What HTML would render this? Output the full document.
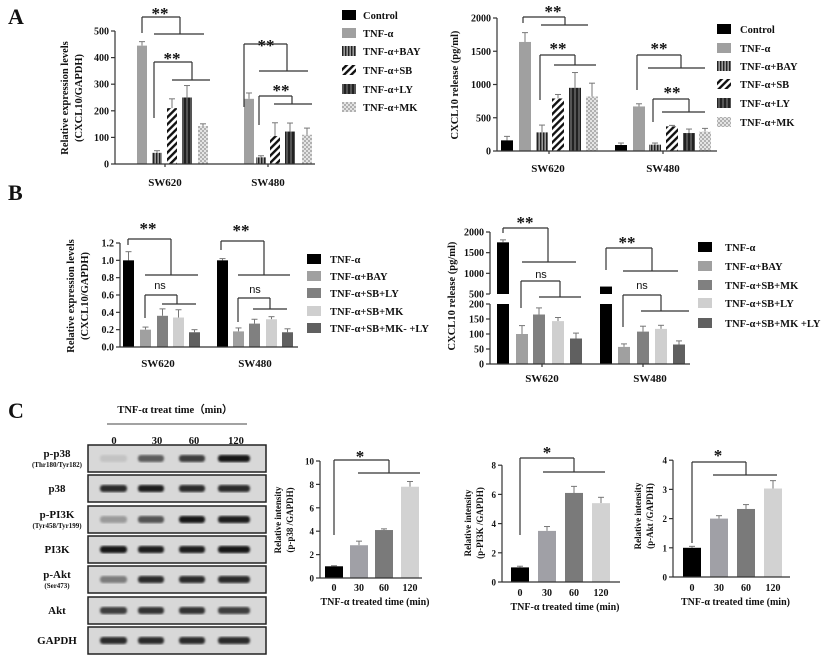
<!DOCTYPE html>
<html><head><meta charset="utf-8"><style>
html,body{margin:0;padding:0;background:#fff;width:825px;height:659px;overflow:hidden}
svg{display:block}
text{font-family:"Liberation Serif",serif;font-weight:bold;fill:#111}
</style></head><body>
<svg id="s" width="825" height="659" viewBox="0 0 825 659" xmlns="http://www.w3.org/2000/svg">
<defs>
<pattern id="pBAY" width="3" height="4" patternUnits="userSpaceOnUse"><rect width="3" height="4" fill="#9a9a9a"/><rect width="1.4" height="4" fill="#222"/></pattern>
<pattern id="pSB" width="5" height="5" patternUnits="userSpaceOnUse" patternTransform="rotate(45)"><rect width="5" height="5" fill="#fff"/><rect width="2.4" height="5" fill="#111"/></pattern>
<pattern id="pLY" width="4" height="4" patternUnits="userSpaceOnUse"><rect width="4" height="4" fill="#222"/><rect x="2.5" width="1" height="4" fill="#888"/></pattern>
<pattern id="pMK" width="4" height="4" patternUnits="userSpaceOnUse"><rect width="4" height="4" fill="#e4e4e4"/><rect width="2" height="2" fill="#b0b0b0"/><rect x="2" y="2" width="2" height="2" fill="#b0b0b0"/></pattern>
<filter id="blur"><feGaussianBlur stdDeviation="1.1"/></filter>
</defs>
<g id="g"></g>
</svg>
<script>
var g=document.getElementById('g'),NS='http://www.w3.org/2000/svg';
function el(t,a,txt){var e=document.createElementNS(NS,t);for(var k in a)e.setAttribute(k,a[k]);if(txt!=null)e.textContent=txt;g.appendChild(e);return e;}
function line(x1,y1,x2,y2,w,c){el('line',{x1:x1,y1:y1,x2:x2,y2:y2,stroke:c||'#333','stroke-width':w||1.2});}
function txt(x,y,s,sz,anc,extra){var a={x:x,y:y,'font-size':sz||10,'text-anchor':anc||'middle'};for(var k in extra)a[k]=extra[k];return el('text',a,s);}
function bar(x,w,y0,y,fill,errY){ if(errY!=null){line(x+w/2,y,x+w/2,errY,1,'#777');line(x+w/2-3,errY,x+w/2+3,errY,1,'#777');}
 el('rect',{x:x,y:Math.min(y,y0),width:w,height:Math.abs(y0-y),fill:fill});}
function bracket(vx,vy1,vy2,rx,ry,hx1,hx2,hy,star,sx,sy,ns){line(vx,vy1,vx,vy2);line(vx,vy2,rx,vy2);line(rx,vy2,rx,hy);line(hx1,hy,hx2,hy);
 if(ns)el('text',{x:sx,y:sy,'font-size':11,'text-anchor':'middle',style:'font-family:Liberation Sans,sans-serif;font-weight:normal'},'ns');
 else txt(sx,sy,star,17);}
function yaxis(x,ticks,ymap,top,bot,sz,dec){line(x,top,x,bot,1.2);ticks.forEach(function(t){var y=ymap(t);line(x-4,y,x,y,1.2);txt(x-6,y+3.5,dec?t.toFixed(dec):String(t),sz||10,'end');});}
function ylabel(x,y,lines,sz){lines.forEach(function(l,i){txt(0,0,l,sz||10,'middle',{transform:'translate('+(x+i*(sz||10)*1.35)+','+y+') rotate(-90)'});});}
function legend(x,ys,names,fills,tx,sz){names.forEach(function(n,i){el('rect',{x:x,y:ys[i]-5,width:14,height:10,fill:fills[i]});txt(tx,ys[i]+4,n,sz||10.5,'start');});}

txt(8,24,'A',22,'start');txt(8,200,'B',22,'start');txt(8,418,'C',22,'start');

(function(){var x0=115,y0=164,s=133/500,Y=function(v){return y0-v*s};
var fills=['#000','#a0a0a0','url(#pBAY)','url(#pSB)','url(#pLY)','url(#pMK)'];
var g1=[[123,1,0],[137,445,15],[152,42,8],[167,210,35],[182,250,45],[198,143,8]];
var g2=[[229,1,0],[244,245,22],[256,25,6],[270,105,50],[285,122,32],[302,110,25]];
[g1,g2].forEach(function(G){G.forEach(function(b,i){bar(b[0],10,y0,Y(b[1]),fills[i],b[2]?Y(b[1]+b[2]):null);});});
yaxis(x0,[0,100,200,300,400,500],Y,31,y0);line(x0,y0,315,y0,1.2);line(165,y0,165,y0+3);line(268,y0,268,y0+3);
txt(165,186,'SW620',11);txt(268,186,'SW480',11);
ylabel(68,98,['Relative expression levels','(CXCL10/GAPDH)'],10.5);
bracket(142,33,17,180,0,154,204,34,'**',160,19);
bracket(154,118,62,192,0,172,210,80,'**',172,64);
bracket(244,107,44,287,0,259,308,71,'**',266,51);
bracket(259,125,96,292,0,274,312,104,'**',281,96);
legend(342,[15,33,51,70,89,107],['Control','TNF-α','TNF-α+BAY','TNF-α+SB','TNF-α+LY','TNF-α+MK'],fills,363,10.5);
})();
(function(){var x0=497,y0=151,s=133/2000,Y=function(v){return y0-v*s};
var fills=['#000','#a0a0a0','url(#pBAY)','url(#pSB)','url(#pLY)','url(#pMK)'];
var g1=[[501,160,60],[519,1640,140],[536,280,110],[552,790,60],[569,950,230],[586,820,200]];
var g2=[[615,90,30],[633,670,40],[649,95,25],[666,370,15],[683,270,60],[699,290,50]];
[g1,g2].forEach(function(G){G.forEach(function(b,i){bar(b[0],12,y0,Y(b[1]),fills[i],Y(b[1]+b[2]));});});
yaxis(x0,[0,500,1000,1500,2000],Y,18,y0);line(x0,y0,717,y0,1.2);line(549,y0,549,y0+3);line(663,y0,663,y0+3);
txt(548,172,'SW620',11);txt(663,172,'SW480',11);
ylabel(458,85,['CXCL10 release (pg/ml)'],10.5);
bracket(523,23,17,565,0,541,588,25,'**',553,17);
bracket(540,100,55,575,0,554,596,65,'**',558,54);
bracket(637,90,55,681,0,648,705,68,'**',659,54);
bracket(653,122,99,689,0,662,705,112,'**',672,98);
legend(717,[29,48,66,84,103,122],['Control','TNF-α','TNF-α+BAY','TNF-α+SB','TNF-α+LY','TNF-α+MK'],fills,740,10.5);
})();
(function(){var x0=120,y0=347,s=104/1.2,Y=function(v){return y0-v*s};
var fills=['#000','#a0a0a0','#808080','#cfcfcf','#606060'];
var g1=[[123,1,.1],[140,.2,.03],[157,.36,.08],[173,.34,.09],[189,.17,.03]];
var g2=[[217,1,.02],[233,.18,.04],[249,.27,.05],[266,.32,.03],[282,.17,.04]];
[g1,g2].forEach(function(G){G.forEach(function(b,i){bar(b[0],11,y0,Y(b[1]),fills[i],Y(b[1]+b[2]));});});
yaxis(x0,[0,0.2,0.4,0.6,0.8,1.0,1.2],Y,243,y0,10,1);
line(x0,y0,298,y0,1.2);
txt(158,367,'SW620',11);txt(255,367,'SW480',11);
ylabel(74,296,['Relative expression levels','(CXCL10/GAPDH)'],10.5);
bracket(128,245,239,171,0,145,198,275,'**',148,234);
bracket(145,318,295,177,0,162,196,304,'',160,289,true);
bracket(221,250,241,264,0,238,290,275,'**',241,236);
bracket(238,322,298,270,0,253,287,309,'',255,293,true);
legend(307,[259,276,293,311,328],['TNF-α','TNF-α+BAY','TNF-α+SB+LY','TNF-α+SB+MK','TNF-α+SB+MK- +LY'],fills,330,10.5);
})();
(function(){var x0=490,y0=364,Y=function(v){return v<=200?y0-v*0.3:294-(v-500)*62/1500};
var fills=['#000','#a0a0a0','#808080','#cfcfcf','#606060'];
line(x0,232,x0,294,1.2);line(x0,304,x0,y0,1.2);
[[500,294],[1000,Y(1000)],[1500,Y(1500)],[2000,232]].forEach(function(t){line(x0-4,t[1],x0,t[1]);txt(x0-6,t[1]+3.5,String(t[0]),10,'end');});
[0,50,100,150,200].forEach(function(t){var y=Y(t);line(x0-4,y,x0,y);txt(x0-6,y+3.5,String(t),10,'end');});
el('rect',{x:497,y:Y(1750),width:12,height:294-Y(1750),fill:'#000'});line(503,Y(1750),503,Y(1810),1,'#777');line(500,Y(1810),506,Y(1810),1,'#777');
el('rect',{x:497,y:304,width:12,height:60,fill:'#000'});
el('rect',{x:600,y:Y(680),width:12,height:294-Y(680),fill:'#000'});
el('rect',{x:600,y:304,width:12,height:60,fill:'#000'});
var g1=[[516,100,28],[533,165,22],[552,143,12],[570,85,18]];
var g2=[[618,57,10],[637,108,18],[655,117,12],[673,65,12]];
[g1,g2].forEach(function(G){G.forEach(function(b,i){bar(b[0],12,y0,Y(b[1]),fills[i+1],Y(b[1]+b[2]));});});
line(x0,y0,690,y0,1.2);line(542,y0,542,y0+3);line(643,y0,643,y0+3);
txt(542,382,'SW620',11);txt(650,382,'SW480',11);
ylabel(455,296,['CXCL10 release (pg/ml)'],10.5);
bracket(503,233,228,548,0,522,576,262,'**',525,228);
bracket(521,308,281,560,0,539,581,297,'',541,278,true);
bracket(606,270,248,652,0,623,678,271,'**',627,248);
bracket(623,327,295,661,0,641,689,311,'',642,289,true);
legend(698,[247,266,285,303,323],['TNF-α','TNF-α+BAY','TNF-α+SB+MK','TNF-α+SB+LY','TNF-α+SB+MK +LY'],fills,725,10.5);
})();
(function(){txt(175,413,'TNF-α treat time（min）',10.5);line(107,424,247,424,1,'#444');
[[114,'0'],[157,'30'],[194,'60'],[236,'120']].forEach(function(l){txt(l[0],444,l[1],10.5);});
var rows=[[445,'p-p38','(Thr180/Tyr182)',[0.1,0.6,0.75,0.95]],[475,'p38','',[0.85,0.9,0.85,0.85]],[506,'p-PI3K','(Tyr458/Tyr199)',[0.3,0.65,0.95,0.9]],[536,'PI3K','',[0.95,0.9,0.9,0.95]],[566,'p-Akt','(Ser473)',[0.45,0.85,0.85,0.85]],[597,'Akt','',[0.75,0.8,0.8,0.75]],[627,'GAPDH','',[0.85,0.85,0.85,0.85]]];
var bx=[[100,127],[138,164],[179,205],[218,250]];
rows.forEach(function(r){var y=r[0],h=27;el('rect',{x:88,y:y,width:178,height:h,fill:'#d8d8d8',stroke:'#222','stroke-width':1.5});
 r[3].forEach(function(v,i){var c=Math.round(215-205*v);el('rect',{x:bx[i][0],y:y+h/2-3.5,width:bx[i][1]-bx[i][0],height:7,rx:3,fill:'rgb('+c+','+c+','+c+')',filter:'url(#blur)'});});
 if(r[2]){txt(57,y+12,r[1],11);txt(57,y+22,r[2],7);}else txt(57,y+17,r[1],11);});
})();
function cchart(o){var Y=function(v){return o.y0-v*o.s};var cols=['#000','#a0a0a6','#7a7a7a','#d2d2d2'];
 o.vals.forEach(function(v,i){bar(o.bx[i],18,o.y0,Y(v[0]),cols[i],Y(v[0]+v[1]));});
 yaxis(o.x0,o.ticks,Y,Y(o.ticks[o.ticks.length-1]),o.y0,9);line(o.x0,o.y0,o.xe,o.y0,1.2);
 ['0','30','60','120'].forEach(function(l,i){txt(o.bx[i]+9,o.ly,l,10);});
 txt((o.x0+o.xe)/2+4,o.ly+14,'TNF-α treated time (min)',10);
 ylabel(o.yl,o.ylc,['Relative intensity',o.ylab],9);
 var b=o.br;bracket(b[0],b[1],b[2],b[3],0,b[4],b[5],b[6],'*',b[7],b[8]);}
cchart({x0:320,xe:422,y0:578,s:11.7,ticks:[0,2,4,6,8,10],bx:[325,350,375,401],vals:[[1,.05],[2.8,.35],[4.1,.1],[7.8,.45]],ly:591,yl:281,ylc:520,ylab:'(p-p38 /GAPDH)',br:[334,535,460,389,358,420,473,360,462]});
cchart({x0:502,xe:620,y0:582,s:14.6,ticks:[0,2,4,6,8],bx:[511,538,565,592],vals:[[1,.08],[3.5,.3],[6.1,.45],[5.4,.4]],ly:596,yl:471,ylc:523,ylab:'(p-PI3K /GAPDH)',br:[520,535,458,574,543,605,472,547,458]});
cchart({x0:673,xe:790,y0:577,s:29.2,ticks:[0,1,2,3,4],bx:[683,710,737,764],vals:[[1,.05],[2,.1],[2.33,.15],[3.03,.27]],ly:591,yl:641,ylc:516,ylab:'(p-Akt /GAPDH)',br:[692,543,462,746,713,777,475,718,461]});
</script>
</body></html>
